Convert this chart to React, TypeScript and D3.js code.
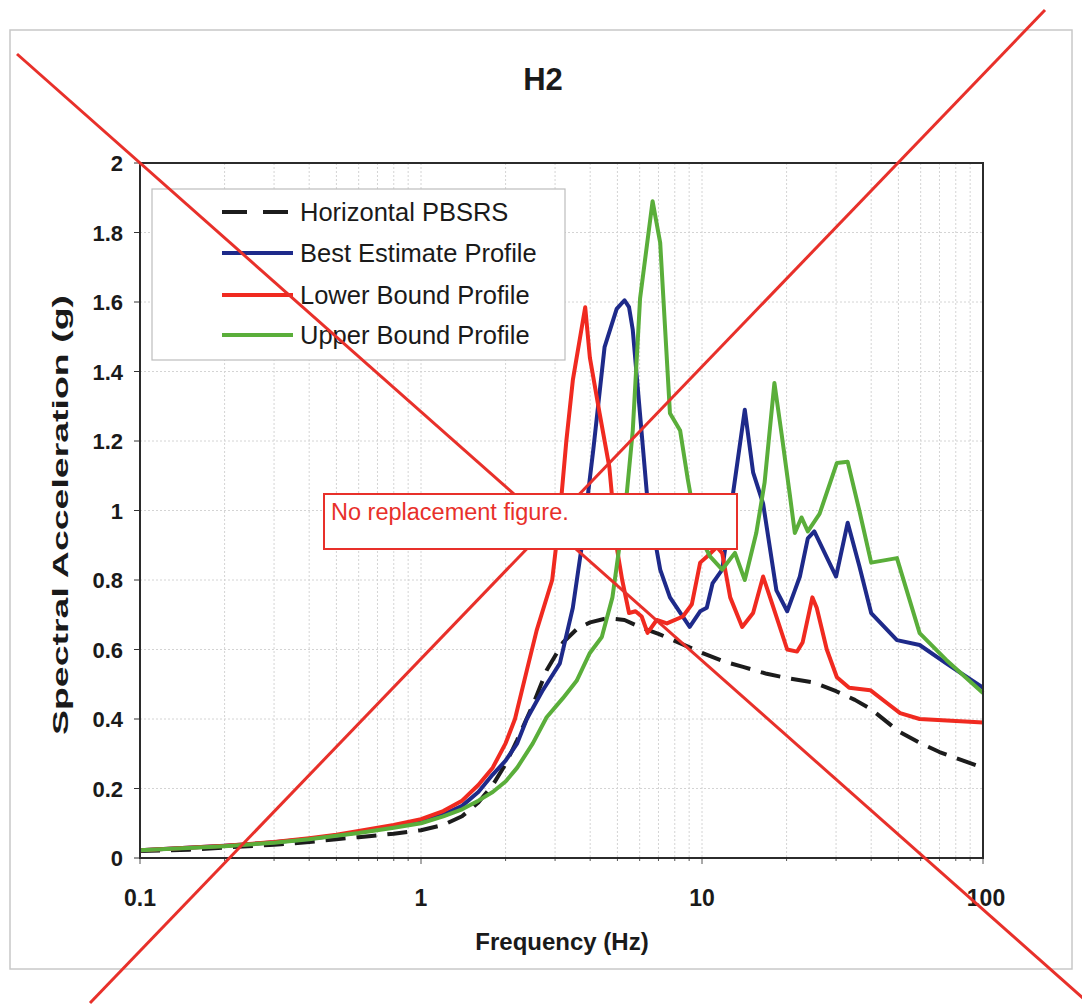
import React from 'react';
import * as d3 from 'd3';

const freqPBSRS = [0.1, 0.15, 0.2, 0.3, 0.4, 0.5, 0.6, 0.8, 1.0, 1.2, 1.4, 1.6, 1.8, 2.0, 2.2, 2.5, 2.8, 3.2, 3.6, 4.0, 4.6, 5.3, 6.0, 7.0, 8.0, 10, 12, 14, 17, 20, 25, 30, 35, 40, 50, 60, 70, 85, 100];
const valPBSRS = [0.02, 0.024, 0.03, 0.038, 0.046, 0.054, 0.06, 0.07, 0.08, 0.095, 0.12, 0.16, 0.21, 0.27, 0.34, 0.44, 0.54, 0.62, 0.66, 0.678, 0.69, 0.685, 0.665, 0.645, 0.625, 0.59, 0.565, 0.55, 0.53, 0.518, 0.505, 0.48, 0.455, 0.428, 0.365, 0.33, 0.305, 0.28, 0.26];

const freqBest = [0.1, 0.2, 0.3, 0.4, 0.5, 0.6, 0.8, 1.0, 1.2, 1.4, 1.6, 1.8, 2.0, 2.2, 2.38, 2.7, 3.12, 3.47, 3.73, 4.11, 4.5, 4.97, 5.3, 5.5, 5.67, 6.38, 7.1, 7.69, 9.04, 9.85, 10.4, 10.9, 11.8, 12.9, 14.2, 15.2, 16.5, 18.4, 20.1, 21.4, 22.3, 23.8, 25.1, 30, 33, 36.3, 40, 49.4, 59.5, 74, 100];
const valBest = [0.022, 0.035, 0.045, 0.055, 0.065, 0.074, 0.09, 0.105, 0.125, 0.15, 0.19, 0.24, 0.28, 0.33, 0.4, 0.48, 0.56, 0.72, 0.895, 1.18, 1.47, 1.58, 1.605, 1.585, 1.52, 1.04, 0.83, 0.75, 0.665, 0.71, 0.72, 0.79, 0.83, 1.05, 1.29, 1.11, 1.02, 0.77, 0.71, 0.77, 0.81, 0.92, 0.94, 0.81, 0.965, 0.84, 0.705, 0.627, 0.613, 0.56, 0.49];

const freqLower = [0.1, 0.2, 0.3, 0.4, 0.5, 0.6, 0.8, 1.0, 1.2, 1.4, 1.6, 1.8, 2.0, 2.16, 2.38, 2.58, 2.93, 3.12, 3.29, 3.47, 3.84, 3.99, 4.32, 4.68, 4.97, 5.2, 5.5, 5.8, 6.1, 6.4, 6.9, 7.5, 8.55, 9.2, 9.85, 10.4, 11.3, 11.8, 12.6, 13.9, 15.2, 16.5, 17.8, 20.1, 21.8, 22.8, 24.7, 25.6, 27.8, 30.2, 33.4, 39.7, 45.5, 50.7, 59.5, 100];
const valLower = [0.022, 0.035, 0.046, 0.057, 0.067, 0.078, 0.095, 0.112, 0.135, 0.165, 0.21, 0.26, 0.33, 0.4, 0.54, 0.655, 0.8, 0.99, 1.2, 1.375, 1.585, 1.44, 1.28, 1.125, 0.895, 0.8, 0.705, 0.71, 0.695, 0.648, 0.685, 0.675, 0.695, 0.73, 0.85, 0.867, 0.895, 0.877, 0.75, 0.665, 0.705, 0.81, 0.73, 0.6, 0.594, 0.62, 0.75, 0.72, 0.6, 0.52, 0.49, 0.483, 0.446, 0.417, 0.4, 0.39];

const freqUpper = [0.1, 0.2, 0.3, 0.4, 0.5, 0.6, 0.8, 1.0, 1.2, 1.4, 1.6, 1.8, 2.0, 2.2, 2.5, 2.8, 3.2, 3.58, 3.99, 4.4, 4.8, 5.1, 5.4, 5.67, 6.02, 6.67, 7.1, 7.69, 8.36, 8.9, 9.6, 10.7, 11.8, 13.1, 14.2, 15.6, 16.7, 18.1, 19.2, 20.5, 21.4, 22.6, 23.8, 26.2, 30.2, 33, 36.3, 40, 49.4, 59.5, 74, 100];
const valUpper = [0.022, 0.034, 0.044, 0.054, 0.064, 0.072, 0.087, 0.1, 0.12, 0.14, 0.165, 0.19, 0.22, 0.26, 0.33, 0.405, 0.46, 0.51, 0.59, 0.636, 0.75, 0.905, 1.05, 1.23, 1.61, 1.89, 1.77, 1.28, 1.23, 1.09, 0.94, 0.867, 0.83, 0.878, 0.8, 0.935, 1.08, 1.367, 1.22, 1.05, 0.935, 0.98, 0.94, 0.99, 1.137, 1.14, 1.0, 0.85, 0.863, 0.647, 0.57, 0.475];

const yTicks = [0, 0.2, 0.4, 0.6, 0.8, 1, 1.2, 1.4, 1.6, 1.8, 2];
const yTickLabels = ['0', '0.2', '0.4', '0.6', '0.8', '1', '1.2', '1.4', '1.6', '1.8', '2'];
const xTicks = [0.1, 1, 10, 100];
const xTickLabels = ['0.1', '1', '10', '100'];

const legendNames = ['Horizontal PBSRS', 'Best Estimate Profile', 'Lower Bound Profile', 'Upper Bound Profile'];

const series = [
  { name: legendNames[0], f: freqPBSRS, v: valPBSRS, color: '#1c1c1c', dash: '20,11' },
  { name: legendNames[1], f: freqBest, v: valBest, color: '#1e2a8a', dash: null },
  { name: legendNames[2], f: freqLower, v: valLower, color: '#f02a20', dash: null },
  { name: legendNames[3], f: freqUpper, v: valUpper, color: '#5aae3a', dash: null },
];

const W = 1082;
const H = 1008;
const plot = { left: 140, right: 983, top: 163, bottom: 858 };
const font = '"Liberation Sans", Arial, sans-serif';

export default function App() {
  const x = d3.scaleLog().domain([0.1, 100]).range([plot.left, plot.right]);
  const y = d3.scaleLinear().domain([0, 2]).range([plot.bottom, plot.top]);

  const minor: number[] = [];
  [0.1, 1, 10].forEach((d) => {
    for (let k = 2; k <= 9; k++) minor.push(d * k);
  });

  const lineGen = d3
    .line<[number, number]>()
    .x((d) => x(d[0]))
    .y((d) => y(d[1]));

  const legendRows = [212, 253, 295, 335];

  return (
    <svg width={W} height={H} style={{ display: 'block', position: 'absolute', left: 0, top: 0 }}>
      <rect x={0} y={0} width={W} height={H} fill="#fff" />
      <rect x={10} y={30} width={1062} height={939} fill="none" stroke="#c8c8c8" strokeWidth={1.5} />
      <text x={543} y={90} textAnchor="middle" fontFamily={font} fontWeight="bold" fontSize={31} fill="#1a1a1a">
        H2
      </text>

      {/* grid */}
      {minor.map((m) => (
        <line key={'v' + m} x1={x(m)} x2={x(m)} y1={plot.top} y2={plot.bottom} stroke="#d4d4d4" strokeDasharray="2,2" />
      ))}
      {[1, 10].map((m) => (
        <line key={'vm' + m} x1={x(m)} x2={x(m)} y1={plot.top} y2={plot.bottom} stroke="#d4d4d4" strokeDasharray="2,2" />
      ))}
      {yTicks.slice(1, -1).map((t) => (
        <line key={'h' + t} x1={plot.left} x2={plot.right} y1={y(t)} y2={y(t)} stroke="#d4d4d4" strokeDasharray="2,2" />
      ))}

      {/* ticks */}
      {yTicks.map((t) => (
        <line key={'yt' + t} x1={plot.left - 6} x2={plot.left} y1={y(t)} y2={y(t)} stroke="#333" strokeWidth={1} />
      ))}
      {xTicks.concat(minor).map((t) => (
        <line key={'xt' + t} x1={x(t)} x2={x(t)} y1={plot.bottom} y2={plot.bottom + (xTicks.includes(t) ? 6 : 3)} stroke="#555" strokeWidth={1} />
      ))}

      {/* series */}
      {series.map((s) => (
        <path
          key={s.name}
          d={lineGen(s.f.map((f, i) => [f, s.v[i]] as [number, number])) || ''}
          fill="none"
          stroke={s.color}
          strokeWidth={4}
          strokeDasharray={s.dash || undefined}
          strokeLinejoin="round"
        />
      ))}

      {/* frame */}
      <rect x={plot.left} y={plot.top} width={plot.right - plot.left} height={plot.bottom - plot.top} fill="none" stroke="#2b2b2b" strokeWidth={2} />

      {/* tick labels */}
      {yTicks.map((t, i) => (
        <text key={'yl' + t} x={123} y={y(t) + 8} textAnchor="end" fontFamily={font} fontWeight="bold" fontSize={22} fill="#1a1a1a">
          {yTickLabels[i]}
        </text>
      ))}
      {xTicks.map((t, i) => (
        <text key={'xl' + t} x={x(t) + (i === 3 ? 3 : 0)} y={906} textAnchor="middle" fontFamily={font} fontWeight="bold" fontSize={23} fill="#1a1a1a">
          {xTickLabels[i]}
        </text>
      ))}

      {/* axis titles */}
      <text x={562} y={950} textAnchor="middle" fontFamily={font} fontWeight="bold" fontSize={24} fill="#1a1a1a">
        Frequency (Hz)
      </text>
      <text
        transform="translate(68,515) rotate(-90)"
        textAnchor="middle"
        fontFamily={font}
        fontWeight="bold"
        fontSize={22}
        fill="#1a1a1a"
        textLength={440}
        lengthAdjust="spacingAndGlyphs"
      >
        Spectral Acceleration (g)
      </text>

      {/* legend */}
      <rect x={152} y={189} width={413} height={171} fill="#fff" stroke="#bdbdbd" strokeWidth={1.2} />
      {series.map((s, i) => (
        <g key={'lg' + s.name}>
          <line
            x1={222}
            x2={293}
            y1={legendRows[i]}
            y2={legendRows[i]}
            stroke={s.color}
            strokeWidth={4}
            strokeDasharray={s.dash ? '25,16' : undefined}
          />
          <text x={300} y={legendRows[i] + 9} fontFamily={font} fontSize={25.5} fill="#1a1a1a">
            {s.name}
          </text>
        </g>
      ))}

      {/* overlay: cross and notice box */}
      <line x1={17} y1={54} x2={1092} y2={1006} stroke="#e8302a" strokeWidth={3} />
      <line x1={90} y1={1003} x2={1045} y2={10} stroke="#e8302a" strokeWidth={3} />
      <rect x={324} y={494} width={413} height={55} fill="#fff" stroke="#e8302a" strokeWidth={2} />
      <text x={331} y={520} fontFamily={font} fontSize={23.5} fill="#e8302a">
        No replacement figure.
      </text>
    </svg>
  );
}
